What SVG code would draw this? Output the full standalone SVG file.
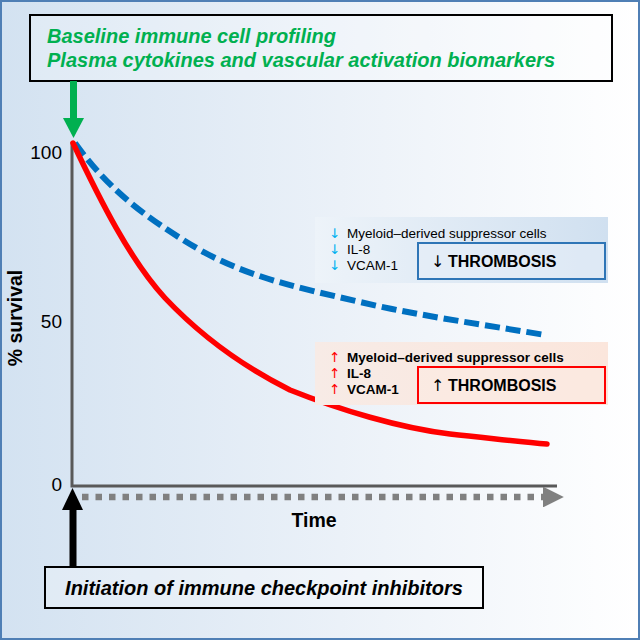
<svg xmlns="http://www.w3.org/2000/svg" width="640" height="640" viewBox="0 0 640 640">
<defs>
<linearGradient id="bg" x1="0" y1="0" x2="1" y2="0">
<stop offset="0" stop-color="#d3e2f1"/>
<stop offset="0.6" stop-color="#eef3f9"/>
<stop offset="1" stop-color="#ffffff"/>
</linearGradient>
<linearGradient id="bluebg" x1="0" y1="0" x2="1" y2="0">
<stop offset="0" stop-color="#edf3f9"/>
<stop offset="1" stop-color="#d0e0f0"/>
</linearGradient>
<linearGradient id="redbg" x1="0" y1="0" x2="1" y2="0">
<stop offset="0" stop-color="#f7ebe6"/>
<stop offset="1" stop-color="#fbe6dc"/>
</linearGradient>
<marker id="grayhead" viewBox="0 0 10 10" refX="0" refY="5" markerWidth="3.2" markerHeight="3.2" orient="auto" markerUnits="strokeWidth">
<path d="M0,0 L10,5 L0,10 Z" fill="#808080"/>
</marker>
</defs>
<style>
.lbl{font-family:"Liberation Sans",Arial,sans-serif;}
.green{fill:#00b050;font-weight:bold;font-style:italic;font-size:20px;}
.tick{font-size:19px;fill:#000;}
.axt{font-size:19.5px;font-weight:bold;fill:#000;}
.small{font-size:13.5px;fill:#000;}
.arr{font-family:"DejaVu Sans",sans-serif;font-weight:normal;}
.thr{font-size:16px;font-weight:bold;fill:#000;}
.box{stroke:#000;stroke-width:2;fill:#ffffff;fill-opacity:0.25;}
</style>
<rect x="0" y="0" width="640" height="640" fill="url(#bg)"/>
<rect x="1" y="1" width="638" height="638" fill="none" stroke="#4f7fb5" stroke-width="2"/>

<g id="top-box">
<rect class="box" x="30" y="15" width="582" height="66"/>
<text class="lbl green" x="47" y="43">Baseline immune cell profiling</text>
<text class="lbl green" x="47" y="67">Plasma cytokines and vascular activation biomarkers</text>
</g>

<g id="axes">
<path d="M72,142 L72,486 L557,486" fill="none" stroke="#595959" stroke-width="3"/>
<text class="lbl tick" x="62" y="159" text-anchor="end">100</text>
<text class="lbl tick" x="62" y="328" text-anchor="end">50</text>
<text class="lbl tick" x="62" y="491" text-anchor="end">0</text>
<text class="lbl axt" transform="translate(22,318) rotate(-90)" text-anchor="middle">% survival</text>
<text class="lbl axt" x="314" y="527" text-anchor="middle">Time</text>
</g>

<g id="connectors">
<path d="M82,497 L543,497" stroke="#808080" stroke-width="6.5" stroke-dasharray="6.5 7" fill="none" marker-end="url(#grayhead)"/>
<rect x="70" y="81" width="7" height="38" fill="#00b050"/>
<path d="M63,118 L84,118 L73.5,138 Z" fill="#00b050"/>
<rect x="69.5" y="508" width="7" height="60" fill="#000"/>
<path d="M62,510 L83,510 L72.5,488 Z" fill="#000"/>
</g>

<g id="curves">
<path d="M75,143 C105,185 140,215 200,250 C250,278 300,288 360,302 C420,316 480,324 545,335" fill="none" stroke="#0070c0" stroke-width="6" stroke-dasharray="15 6"/>
<path d="M73,143 C100,200 130,260 165,298 C200,335 240,365 290,390 C340,410 400,428 450,434 C490,438 520,442 547,444" fill="none" stroke="#ff0000" stroke-width="5.5" stroke-linecap="round"/>
</g>

<g id="blue-legend">
<rect x="315" y="217" width="293" height="66" fill="url(#bluebg)"/>
<text class="lbl small" x="329" y="238"><tspan class="arr" fill="#00b0f0">↓</tspan><tspan x="347">Myeloid–derived suppressor cells</tspan></text>
<text class="lbl small" x="329" y="254"><tspan class="arr" fill="#00b0f0">↓</tspan><tspan x="347">IL-8</tspan></text>
<text class="lbl small" x="329" y="270"><tspan class="arr" fill="#00b0f0">↓</tspan><tspan x="347">VCAM-1</tspan></text>
</g>
<g id="blue-thrombosis">
<rect x="418" y="243" width="187" height="36" fill="#e6eef8" fill-opacity="0.6" stroke="#2e75b6" stroke-width="2"/>
<text class="lbl thr" x="431" y="267"><tspan class="arr" font-size="16">↓</tspan><tspan x="448">THROMBOSIS</tspan></text>
</g>

<g id="red-legend">
<rect x="315" y="342" width="293" height="63" fill="url(#redbg)"/>
<text class="lbl small" x="329" y="362" font-weight="bold"><tspan class="arr" fill="#ff0000">↑</tspan><tspan x="347">Myeloid–derived suppressor cells</tspan></text>
<text class="lbl small" x="329" y="378" font-weight="bold"><tspan class="arr" fill="#ff0000">↑</tspan><tspan x="347">IL-8</tspan></text>
<text class="lbl small" x="329" y="394" font-weight="bold"><tspan class="arr" fill="#ff0000">↑</tspan><tspan x="347">VCAM-1</tspan></text>
</g>
<g id="red-thrombosis">
<rect x="418" y="367" width="187" height="36" fill="#fcebe2" fill-opacity="0.6" stroke="#ff0000" stroke-width="2"/>
<text class="lbl thr" x="431" y="391"><tspan class="arr" font-size="16">↑</tspan><tspan x="448">THROMBOSIS</tspan></text>
</g>

<g id="bottom-box">
<rect class="box" x="45" y="567" width="438" height="41"/>
<text class="lbl" x="264" y="595" text-anchor="middle" font-size="20" font-weight="bold" font-style="italic" fill="#000">Initiation of immune checkpoint inhibitors</text>
</g>
</svg>
